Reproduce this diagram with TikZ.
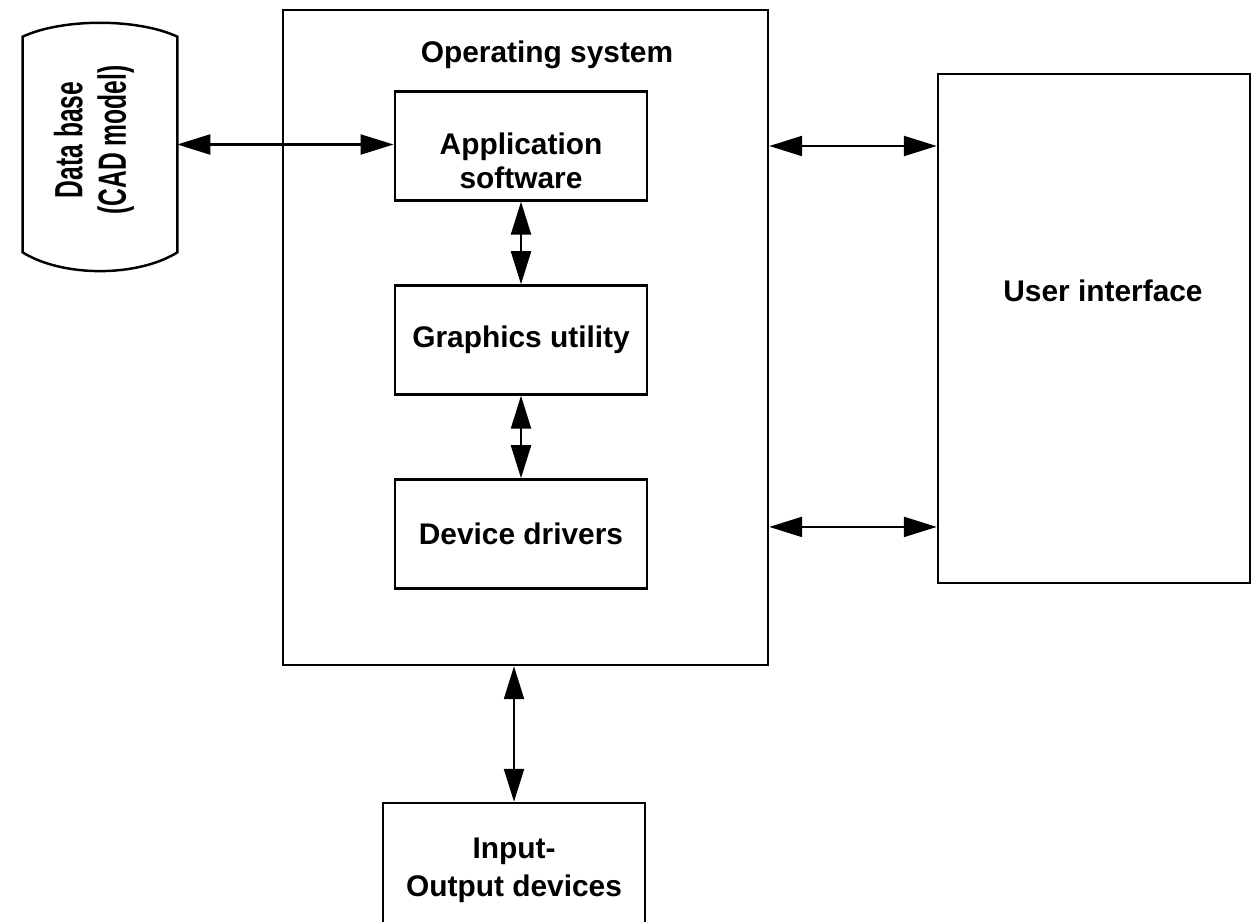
\documentclass[tikz,border=0pt]{standalone}
\usepackage{fontspec}
\setmainfont{Liberation Sans}
\usetikzlibrary{shapes.geometric, arrows.meta, positioning}

\begin{document}
\begin{tikzpicture}[node distance=1.65cm, font=\fontsize{17}{19}\selectfont\bfseries]
\tikzstyle{blk} = [rectangle, minimum width=5.05cm, minimum height=2.18cm, text centered, align=center, draw=black, line width=1.4pt]
\tikzstyle{frame} = [rectangle, draw=black, line width=1.4pt]
\tikzstyle{link} = [{Triangle[length=0.66cm,width=0.4cm]}-{Triangle[length=0.66cm,width=0.4cm]}, line width=1.3pt]

\useasboundingbox (0,0) rectangle (25.04,-18.42);

% Operating system and its layers
\node (os) [frame, minimum width=9.7cm, minimum height=13.1cm] at (10.51,-6.75) {};
\node (ostitle) at (10.94,-1.1) {Operating system};
\node (app) [blk, label={[name=apptext, align=center, yshift=-0.3cm]center:{Application\\software}}] at (10.42,-2.92) {};
\node (graph) [blk, below=of app] {Graphics utility};
\node (drv) [blk, below=of graph] {Device drivers};

% Data base drum
\node (db) [minimum width=3.08cm, minimum height=4.3cm, inner sep=0pt] at (2.0,-2.89) {};
\draw [line width=1.4pt] (db.south west) -- (db.north west)
  .. controls +(0.8,0.37) and +(-0.8,0.37) .. (db.north east) -- (db.south east)
  .. controls +(-0.8,-0.5) and +(0.8,-0.5) .. cycle;
\node (dbtext) [rotate=90, yscale=1.6, align=center, font=\fontsize{14}{15.5}\selectfont\bfseries] at (1.88,-2.8) {Data base\\(CAD model)};

% User interface and I/O
\node (ui) [frame, minimum width=6.24cm, minimum height=10.18cm,
  label={[name=uitext, xshift=0.18cm, yshift=0.76cm]center:User interface}] at (21.88,-6.57) {};
\node (io) [blk, minimum width=5.24cm, minimum height=2.7cm, font=\fontsize{17}{21.5}\selectfont\bfseries] at (10.28,-17.41) {Input-\\Output devices};

% Connections
\draw [link] (db.east) -- (db.east -| app.west);
\draw [link] (app.south) -- (graph.north);
\draw [link] (graph.south) -- (drv.north);
\draw [link] (app -| os.east) -- (app -| ui.west);
\draw [link] ([yshift=0.14cm]drv.center -| os.east) -- ([yshift=0.14cm]drv.center -| ui.west);
\draw [link] (io.north |- os.south) -- (io.north);

\end{tikzpicture}
\end{document}
